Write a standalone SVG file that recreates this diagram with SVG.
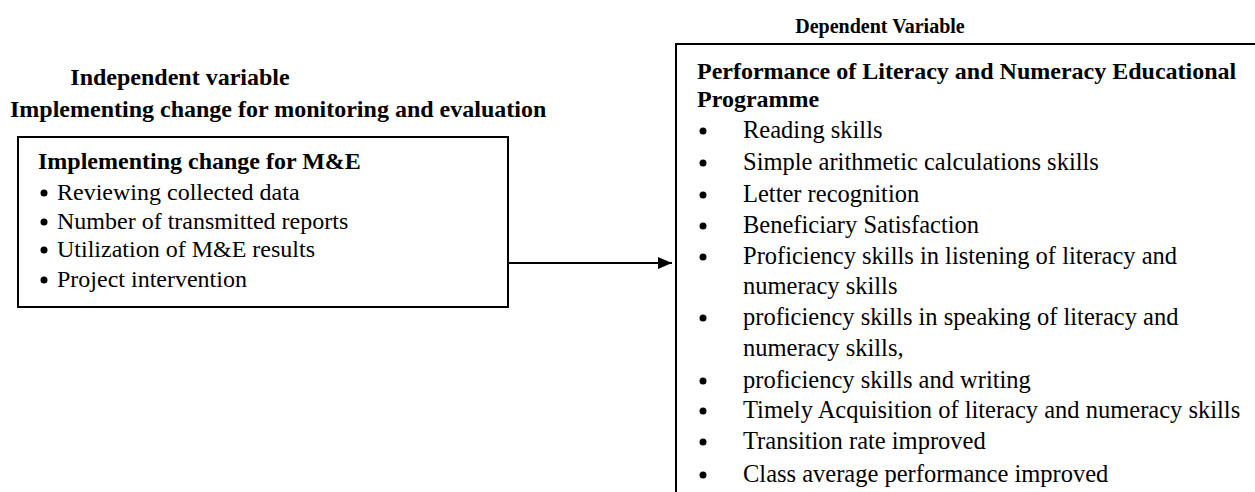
<svg xmlns="http://www.w3.org/2000/svg" width="1255" height="492" viewBox="0 0 1255 492">
<defs>
<style>
text{font-family:"Liberation Serif","Times New Roman",serif;fill:#000}
.h{font-weight:bold;font-size:24px}
.hs{font-weight:bold;font-size:20px}
.t{font-size:24px}
.tr{font-size:24.5px}
.box{fill:#fff;stroke:#000;stroke-width:2}
.b{fill:#000}
</style>
<marker id="ah" markerWidth="14" markerHeight="12" refX="14" refY="6" orient="auto" markerUnits="userSpaceOnUse">
<path d="M0,0 L14,6 L0,12 Z" fill="#000"/>
</marker>
</defs>
<rect width="1255" height="492" fill="#fff"/>
<text class="h" x="180" y="85" text-anchor="middle">Independent variable</text>
<text class="h" x="10" y="117">Implementing change for monitoring and evaluation</text>
<text class="hs" x="880" y="33" text-anchor="middle">Dependent Variable</text>
<g id="independent">
<rect class="box" x="18" y="137" width="490" height="170"/>
<text class="h" x="38" y="169">Implementing change for M&amp;E</text>
<circle class="b" cx="44" cy="193" r="3.5"/>
<text class="t" x="57" y="200">Reviewing collected data</text>
<circle class="b" cx="44" cy="222" r="3.5"/>
<text class="t" x="57" y="229">Number of transmitted reports</text>
<circle class="b" cx="44" cy="250" r="3.5"/>
<text class="t" x="57" y="257">Utilization of M&amp;E results</text>
<circle class="b" cx="44" cy="280" r="3.5"/>
<text class="t" x="57" y="287">Project intervention</text>
</g>
<g id="dependent">
<rect class="box" x="676" y="44" width="620" height="500"/>
<text class="h" x="697" y="79">Performance of Literacy and Numeracy Educational</text>
<text class="h" x="697" y="107">Programme</text>
<g class="b">
<circle cx="703" cy="131" r="3.5"/>
<circle cx="703" cy="163" r="3.5"/>
<circle cx="703" cy="195" r="3.5"/>
<circle cx="703" cy="226" r="3.5"/>
<circle cx="703" cy="257" r="3.5"/>
<circle cx="703" cy="318" r="3.5"/>
<circle cx="703" cy="381" r="3.5"/>
<circle cx="703" cy="411" r="3.5"/>
<circle cx="703" cy="442" r="3.5"/>
<circle cx="703" cy="475" r="3.5"/>
</g>
<text class="tr" x="743" y="138">Reading skills</text>
<text class="tr" x="743" y="170">Simple arithmetic calculations skills</text>
<text class="tr" x="743" y="202">Letter recognition</text>
<text class="tr" x="743" y="233">Beneficiary Satisfaction</text>
<text class="tr" x="743" y="264">Proficiency skills in listening of literacy and</text>
<text class="tr" x="743" y="294">numeracy skills</text>
<text class="tr" x="743" y="325">proficiency skills in speaking of literacy and</text>
<text class="tr" x="743" y="356">numeracy skills,</text>
<text class="tr" x="743" y="388">proficiency skills and writing</text>
<text class="tr" x="743" y="418">Timely Acquisition of literacy and numeracy skills</text>
<text class="tr" x="743" y="449">Transition rate improved</text>
<text class="tr" x="743" y="482">Class average performance improved</text>
</g>
<g id="connectors">
<line x1="508" y1="263" x2="672" y2="263" stroke="#000" stroke-width="2" marker-end="url(#ah)"/>
</g>
</svg>
